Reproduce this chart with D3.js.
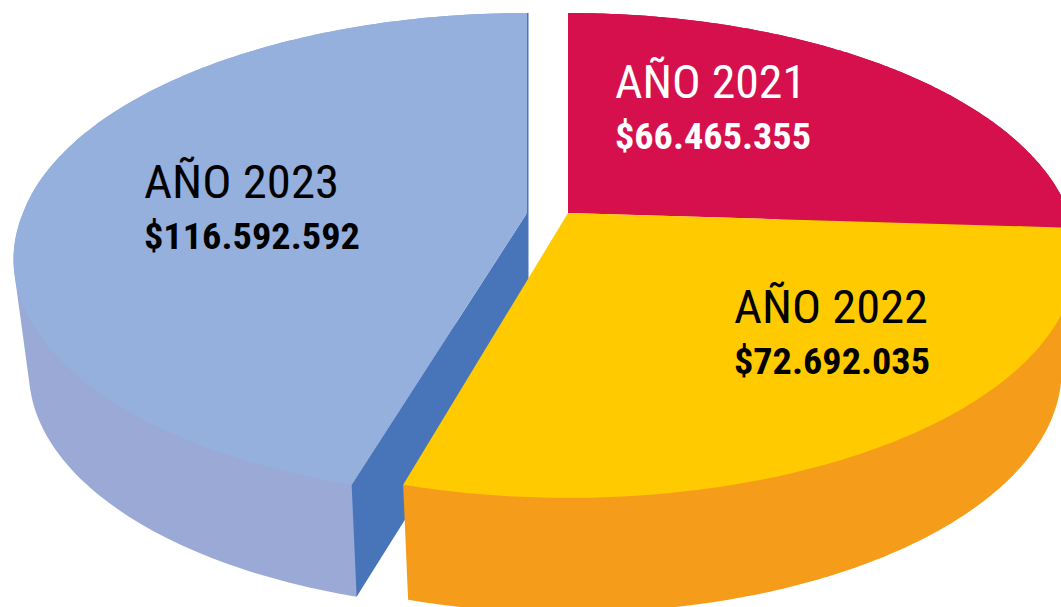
<!DOCTYPE html>
<html><head><meta charset="utf-8">
<script src="https://cdn.jsdelivr.net/npm/d3@7"></script>
<style>html,body{margin:0;padding:0;background:#fff;overflow:hidden}svg{display:block}
text{font-family:Roboto,sans-serif;font-stretch:condensed}</style></head>
<body><svg id="c" width="1061" height="607"></svg>
<script>
const years = ["AÑO 2021", "AÑO 2022", "AÑO 2023"];
const amounts = [66465355, 72692035, 116592592];
const faceColors = ["#D6104D", "#FFCA00", "#95B0DC"];
const wallColors = ["#B00D40", "#F59C1A", "#9AA9D6"];
const cutColors = [null, null, "#4874BA"];
const textColors = ["#FFFFFF", "#000000", "#000000"];
const centerX = [568, 568, 527];
const radiusX = [501, 501, 504];
const lean = [0, 0, -0.035];
const depths = [114, 115, 112];
const labelX = [615, 734, 144];
const titleY = [98, 323, 198];
const amountY = [149, 374, 249];
const titleW = [191, 194, 195];
const amountW = [196, 196, 216];

const W = 1061, H = 607, cy = 213, persp = 0.175, radiusY = 235, floorScale = 0.97;
const es = d3.formatLocale({decimal: ",", thousands: ".", grouping: [3], currency: ["$", ""]});
const money = es.format("$,d");
const svg = d3.select("#c");
const pie = d3.pie().sort(null).value(d => d)(amounts);

function project(i, t, floor) {
  const u = Math.sin(t), v = Math.cos(t), w = 1 + persp * v;
  const ry = -radiusY * v / w;
  const x = radiusX[i] * u / w * (floor ? floorScale : 1) + lean[i] * Math.max(0, ry);
  return [centerX[i] + x, cy + ry + (floor ? depths[i] : 0)];
}
function apex(i, floor) { return [centerX[i], cy + (floor ? depths[i] : 0)]; }
const line = d3.line();
function arcPts(i, a, b, floor) {
  const n = 160, s = d3.scaleLinear().domain([0, n]).range([a, b]);
  return d3.range(n + 1).map(k => project(i, s(k), floor));
}
function drawSlice(i) {
  const d = pie[i];
  const top = arcPts(i, d.startAngle, d.endAngle, false);
  const bot = arcPts(i, d.startAngle, d.endAngle, true);
  svg.append("path").attr("d", line(d3.polygonHull(top.concat(bot))) + "Z").attr("fill", wallColors[i]);
  if (cutColors[i]) {
    const s = d.startAngle;
    svg.append("path").attr("d", line([apex(i,false), project(i,s,false), project(i,s,true), apex(i,true)]) + "Z").attr("fill", cutColors[i]);
    const e = d.endAngle;
    svg.append("path").attr("d", line([project(i,e,false), apex(i,true)]))
      .attr("stroke", cutColors[i]).attr("stroke-width", 2.6).attr("fill", "none")
      .attr("transform", "translate(0.2,0)");
  }
  svg.append("path").attr("d", line([apex(i,false)].concat(top)) + "Z").attr("fill", faceColors[i]);
}
[2, 0, 1].forEach(drawSlice);

amounts.forEach((v, i) => {
  svg.append("text").attr("x", labelX[i]).attr("y", titleY[i]).attr("fill", textColors[i])
    .attr("font-size", 47).attr("textLength", titleW[i]).attr("lengthAdjust", "spacingAndGlyphs").text(years[i]);
  svg.append("text").attr("x", labelX[i]).attr("y", amountY[i]).attr("fill", textColors[i])
    .attr("font-size", 37).attr("font-weight", 700).attr("textLength", amountW[i]).attr("lengthAdjust", "spacingAndGlyphs").text(money(v));
});
</script></body></html>
